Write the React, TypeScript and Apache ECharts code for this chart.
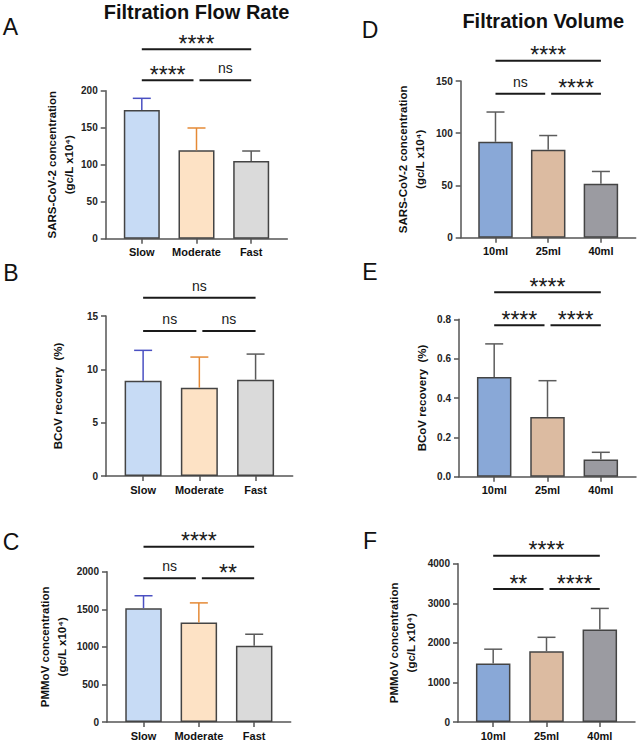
import React, { useEffect, useRef } from 'react';
import * as echarts from 'echarts';

// ---------- data ----------
const flowCategories = ['Slow', 'Moderate', 'Fast'];
const volumeCategories = ['10ml', '25ml', '40ml'];

const sarsFlowMean = [174, 119.5, 105];
const sarsFlowSD = [15.7, 30.1, 13.5];
const bcovFlowMean = [8.93, 8.28, 9.03];
const bcovFlowSD = [2.85, 2.87, 2.4];
const pmmovFlowMean = [1515, 1325, 1016];
const pmmovFlowSD = [165, 260, 152];

const sarsVolMean = [91.8, 84.2, 51.7];
const sarsVolSD = [28.5, 13.6, 11.7];
const bcovVolMean = [0.507, 0.304, 0.087];
const bcovVolSD = [0.168, 0.184, 0.037];
const pmmovVolMean = [1480, 1790, 2340];
const pmmovVolSD = [360, 350, 530];

// significance brackets: [from index, to index, level in data units]
const sigPairsA = [[0, 1, 214], [1, 2, 214], [0, 2, 256]];
const sigLabelsA = ['****', 'ns', '****'];
const sigPairsB = [[0, 1, 13.6], [1, 2, 13.6], [0, 2, 16.7]];
const sigLabelsB = ['ns', 'ns', 'ns'];
const sigPairsC = [[0, 1, 1912], [1, 2, 1912], [0, 2, 2333]];
const sigLabelsC = ['ns', '**', '****'];
const sigPairsD = [[0, 1, 137.8], [1, 2, 137.8], [0, 2, 169.4]];
const sigLabelsD = ['ns', '****', '****'];
const sigPairsE = [[0, 1, 0.7695], [1, 2, 0.7695], [0, 2, 0.937]];
const sigLabelsE = ['****', '****', '****'];
const sigPairsF = [[0, 1, 3360], [1, 2, 3360], [0, 2, 4202]];
const sigLabelsF = ['**', '****', '****'];

const yMaxList = [200, 15, 2000, 150, 0.8, 4000];
const yIntervalList = [50, 5, 500, 50, 0.2, 1000];

// ---------- styles ----------
const FONT = '"Liberation Sans", Arial, Helvetica, sans-serif';
const flowBarColors = ['#c7dbf5', '#fde2c5', '#dadada'];
const flowErrColors = ['#4a50c2', '#e58a36', '#5a5a5a'];
const volBarColors = ['#89a8d7', '#dcbba1', '#9b9ba1'];
const volErrColors = ['#5c5c5c', '#5c5c5c', '#5c5c5c'];
const AXIS_COLOR = '#555';

const layouts = [
  { left: 105.7, top: 90.7, width: 181.6, height: 148, barWidth: 36, nameGap: 26 },
  { left: 106, top: 316, width: 186.7, height: 160, barWidth: 37, nameGap: 39.5 },
  { left: 107, top: 571.7, width: 183.7, height: 150.3, barWidth: 36.5, nameGap: 37 },
  { left: 460.7, top: 81, width: 175, height: 156.7, barWidth: 34.5, nameGap: 32.5 },
  { left: 459, top: 319.3, width: 177, height: 157.4, barWidth: 34.5, nameGap: 28.5 },
  { left: 458, top: 563.7, width: 177, height: 158.3, barWidth: 34.5, nameGap: 38.5 },
];

const panels = [
  { cats: flowCategories, mean: sarsFlowMean, sd: sarsFlowSD, pairs: sigPairsA, labels: sigLabelsA, bar: flowBarColors, err: flowErrColors, name: 'SARS-CoV-2 concentration\n(gc/L x10⁴)' },
  { cats: flowCategories, mean: bcovFlowMean, sd: bcovFlowSD, pairs: sigPairsB, labels: sigLabelsB, bar: flowBarColors, err: flowErrColors, name: 'BCoV recovery  (%)' },
  { cats: flowCategories, mean: pmmovFlowMean, sd: pmmovFlowSD, pairs: sigPairsC, labels: sigLabelsC, bar: flowBarColors, err: flowErrColors, name: 'PMMoV concentration\n(gc/L x10⁴)' },
  { cats: volumeCategories, mean: sarsVolMean, sd: sarsVolSD, pairs: sigPairsD, labels: sigLabelsD, bar: volBarColors, err: volErrColors, name: 'SARS-CoV-2 concentration\n(gc/L x10⁴)' },
  { cats: volumeCategories, mean: bcovVolMean, sd: bcovVolSD, pairs: sigPairsE, labels: sigLabelsE, bar: volBarColors, err: volErrColors, name: 'BCoV recovery  (%)' },
  { cats: volumeCategories, mean: pmmovVolMean, sd: pmmovVolSD, pairs: sigPairsF, labels: sigLabelsF, bar: volBarColors, err: volErrColors, name: 'PMMoV concentration\n(gc/L x10⁴)' },
];

function buildOption() {
  const grid: any[] = [];
  const xAxis: any[] = [];
  const yAxis: any[] = [];
  const series: any[] = [];

  panels.forEach((p, k) => {
    const L = layouts[k];
    grid.push({ left: L.left, top: L.top, width: L.width, height: L.height, containLabel: false });
    const idx = p.cats.map((_, i) => i);
    xAxis.push({
      gridIndex: k,
      type: 'value',
      min: -0.66,
      max: 2.66,
      splitLine: { show: false },
      axisLine: { show: true, onZero: false, lineStyle: { color: AXIS_COLOR, width: 1.5 } },
      axisTick: { show: true, customValues: idx, length: 5, lineStyle: { color: AXIS_COLOR, width: 1.5 } },
      axisLabel: {
        show: true,
        customValues: idx,
        formatter: (v: number) => p.cats[Math.round(v)] ?? '',
        margin: 8,
        fontSize: 11,
        fontWeight: 'bold',
        fontFamily: FONT,
        color: '#111',
      },
    });
    yAxis.push({
      gridIndex: k,
      type: 'value',
      min: 0,
      max: yMaxList[k],
      interval: yIntervalList[k],
      splitLine: { show: false },
      axisLine: { show: true, onZero: false, lineStyle: { color: AXIS_COLOR, width: 1.5 } },
      axisTick: { show: true, length: 5, lineStyle: { color: AXIS_COLOR, width: 1.5 } },
      axisLabel: {
        margin: 8,
        fontSize: 10,
        fontWeight: 'bold',
        fontFamily: FONT,
        color: '#222',
        formatter: (v: number) => (k === 4 ? v.toFixed(1) : String(v)),
      },
      name: p.name,
      nameLocation: 'middle',
      nameRotate: 90,
      nameGap: L.nameGap,
      nameTextStyle: { fontSize: 11.5, fontWeight: 'bold', fontFamily: FONT, color: '#111', lineHeight: 17 },
    });

    series.push({
      type: 'bar',
      xAxisIndex: k,
      yAxisIndex: k,
      barWidth: L.barWidth,
      data: p.mean.map((m, i) => ({
        value: [i, m],
        itemStyle: { color: p.bar[i], borderColor: '#444', borderWidth: 1.5 },
      })),
      z: 2,
    });

    series.push({
      type: 'custom',
      xAxisIndex: k,
      yAxisIndex: k,
      clip: false,
      z: 3,
      data: p.mean.map((m, i) => [i, m, p.sd[i]]),
      renderItem: (params: any, api: any) => {
        const i = api.value(0);
        const m = api.value(1);
        const s = api.value(2);
        const base = api.coord([i, m]);
        const top = api.coord([i, m + s]);
        const color = p.err[params.dataIndex];
        return {
          type: 'group',
          children: [
            { type: 'line', shape: { x1: base[0], y1: base[1], x2: top[0], y2: top[1] }, style: { stroke: color, lineWidth: 1.5 } },
            { type: 'line', shape: { x1: top[0] - 9, y1: top[1], x2: top[0] + 9, y2: top[1] }, style: { stroke: color, lineWidth: 1.5 } },
          ],
        };
      },
    });

    series.push({
      type: 'custom',
      xAxisIndex: k,
      yAxisIndex: k,
      clip: false,
      z: 4,
      data: p.pairs,
      renderItem: (params: any, api: any) => {
        const a = api.value(0);
        const b = api.value(1);
        const lvl = api.value(2);
        const pa = api.coord([a, lvl]);
        const pb = api.coord([b, lvl]);
        let x1 = pa[0];
        let x2 = pb[0];
        if (a === 1) x1 += 3;
        if (b === 1) x2 -= 3;
        const label = p.labels[params.dataIndex];
        const star = label.indexOf('*') >= 0;
        return {
          type: 'group',
          children: [
            { type: 'line', shape: { x1, y1: pa[1], x2, y2: pa[1] }, style: { stroke: '#1a1a1a', lineWidth: 2 } },
            {
              type: 'text',
              x: (x1 + x2) / 2,
              y: pa[1] - (star ? 5.5 : 12),
              style: {
                text: label,
                font: star ? `23px ${FONT}` : `14px ${FONT}`,
                fill: '#1a1a1a',
                textAlign: 'center',
                textVerticalAlign: 'middle',
              },
            },
          ],
        };
      },
    });
  });

  const graphic: any[] = [
    { type: 'text', x: 196.5, y: 11.5, style: { text: 'Filtration Flow Rate', font: `bold 20px ${FONT}`, fill: '#111', textAlign: 'center', textVerticalAlign: 'middle' } },
    { type: 'text', x: 543.3, y: 21, style: { text: 'Filtration Volume', font: `bold 20px ${FONT}`, fill: '#111', textAlign: 'center', textVerticalAlign: 'middle' } },
    { type: 'text', x: 10.5, y: 27, style: { text: 'A', font: `23px ${FONT}`, fill: '#111', textAlign: 'center', textVerticalAlign: 'middle' } },
    { type: 'text', x: 11, y: 272.5, style: { text: 'B', font: `23px ${FONT}`, fill: '#111', textAlign: 'center', textVerticalAlign: 'middle' } },
    { type: 'text', x: 11, y: 542, style: { text: 'C', font: `23px ${FONT}`, fill: '#111', textAlign: 'center', textVerticalAlign: 'middle' } },
    { type: 'text', x: 370, y: 30, style: { text: 'D', font: `23px ${FONT}`, fill: '#111', textAlign: 'center', textVerticalAlign: 'middle' } },
    { type: 'text', x: 370, y: 272, style: { text: 'E', font: `23px ${FONT}`, fill: '#111', textAlign: 'center', textVerticalAlign: 'middle' } },
    { type: 'text', x: 370, y: 541, style: { text: 'F', font: `23px ${FONT}`, fill: '#111', textAlign: 'center', textVerticalAlign: 'middle' } },
  ];

  return {
    animation: false,
    backgroundColor: '#ffffff',
    grid,
    xAxis,
    yAxis,
    series,
    graphic,
  };
}

export default function App() {
  const ref = useRef<HTMLDivElement>(null);
  useEffect(() => {
    if (!ref.current) return;
    const chart = echarts.init(ref.current, undefined, { renderer: 'svg' });
    chart.setOption(buildOption() as any);
    return () => chart.dispose();
  }, []);
  return <div ref={ref} style={{ position: 'absolute', left: 0, top: 0, width: 638, height: 743 }} />;
}
